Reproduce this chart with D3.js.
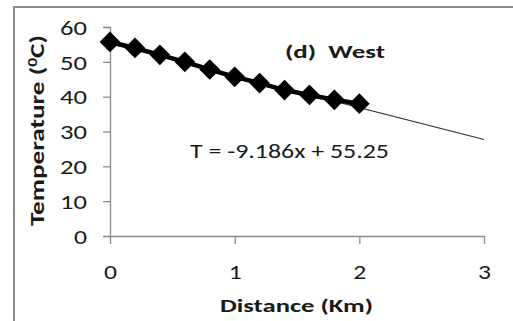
<!DOCTYPE html>
<html>
<head>
<meta charset="utf-8">
<script src="https://cdn.jsdelivr.net/npm/d3@7"></script>
<style>
  html, body { margin: 0; padding: 0; background: #fff; }
  svg { display: block; }
  text { font-family: Carlito, Calibri, Lato, "Open Sans", sans-serif; fill: #1a1a1a; }
</style>
</head>
<body>
<svg id="chart" width="513" height="321"></svg>
<script>
// Measured temperature along the western transect
const distances = [0, 0.2, 0.4, 0.6, 0.8, 1.0, 1.2, 1.4, 1.6, 1.8, 2.0];
const temperatures = [55.7, 54.0, 52.0, 50.0, 47.8, 45.7, 43.9, 41.9, 40.5, 39.1, 38.0];

// Linear trend line T = slope * x + intercept, extended to 3 km
const trendSlope = -9.186;
const trendIntercept = 55.25;
const trendRange = [0, 3];

const xTicks = [0, 1, 2, 3];
const yTicks = [0, 10, 20, 30, 40, 50, 60];

const titleText = "(d)  West";
const equationText = "T = -9.186x + 55.25";
const xTitle = "Distance (Km)";

const svg = d3.select("#chart");
const axisColor = "#8c8c8c";

// Chart area frame (top and left edges)
svg.append("path")
  .attr("d", "M14,321 V7 H513")
  .attr("fill", "none")
  .attr("stroke", "#8a8a8a")
  .attr("stroke-width", 2);

const x = d3.scaleLinear().domain([0, 3]).range([110, 484]);
const y = d3.scaleLinear().domain([0, 60]).range([236, 27]);

// Y axis
const yAxis = svg.append("g").attr("transform", `translate(${x(0)},0)`)
  .call(d3.axisLeft(y).tickValues(yTicks).tickSize(7).tickPadding(6).tickFormat(d3.format("d")));
yAxis.select(".domain").attr("stroke", axisColor).attr("stroke-width", 1.3);
yAxis.selectAll(".tick line").attr("stroke", axisColor).attr("stroke-width", 1.3);
yAxis.selectAll(".tick text")
  .attr("font-family", "Carlito, Calibri, Lato, 'Open Sans', sans-serif")
  .attr("font-size", 20).attr("fill", "#1a1a1a")
  .attr("x", -23).attr("dy", "0.36em")
  .attr("textLength", d => d === 0 ? 13 : 27)
  .attr("lengthAdjust", "spacingAndGlyphs");

// X axis
const xAxis = svg.append("g").attr("transform", `translate(0,${y(0)})`)
  .call(d3.axisBottom(x).tickValues(xTicks).tickSize(8).tickSizeOuter(0).tickFormat(d3.format("d")));
xAxis.select(".domain").attr("stroke", axisColor).attr("stroke-width", 1.3);
xAxis.selectAll(".tick line").attr("stroke", axisColor).attr("stroke-width", 1.3);
xAxis.selectAll(".tick text")
  .attr("font-family", "Carlito, Calibri, Lato, 'Open Sans', sans-serif")
  .attr("font-size", 20).attr("fill", "#1a1a1a")
  .attr("y", 43).attr("dy", 0)
  .attr("textLength", 13)
  .attr("lengthAdjust", "spacingAndGlyphs");

// Trend line
const trend = d3.line().x(d => x(d)).y(d => y(trendSlope * d + trendIntercept));
svg.append("path")
  .datum(trendRange)
  .attr("d", trend)
  .attr("fill", "none")
  .attr("stroke", "#333")
  .attr("stroke-width", 1.2);

// Connecting line between measurements
const line = d3.line().x((d, i) => x(distances[i])).y(d => y(d));
svg.append("path")
  .datum(temperatures)
  .attr("d", line)
  .attr("fill", "none")
  .attr("stroke", "#000")
  .attr("stroke-width", 4.5);

// Diamond markers
const diamond = d3.symbol().type(d3.symbolSquare).size(215);
svg.append("g").selectAll("path")
  .data(temperatures)
  .join("path")
  .attr("d", diamond)
  .attr("transform", (d, i) => `translate(${x(distances[i])},${y(d)}) rotate(45)`)
  .attr("fill", "#000");

// Titles and annotation
svg.append("text")
  .attr("x", 285).attr("y", 58)
  .attr("font-size", 19).attr("font-weight", "bold")
  .attr("textLength", 100).attr("lengthAdjust", "spacingAndGlyphs")
  .attr("xml:space", "preserve")
  .text(titleText);

svg.append("text")
  .attr("x", 190).attr("y", 158)
  .attr("font-size", 20)
  .attr("textLength", 199).attr("lengthAdjust", "spacingAndGlyphs")
  .text(equationText);

svg.append("text")
  .attr("x", 220).attr("y", 312)
  .attr("font-size", 19).attr("font-weight", "bold")
  .attr("textLength", 153).attr("lengthAdjust", "spacingAndGlyphs")
  .text(xTitle);

// Rotated y-axis title with superscript zero
const yTitle = svg.append("text")
  .attr("transform", "translate(44,226) rotate(-90)")
  .attr("font-size", 20).attr("font-weight", "bold")
  .attr("textLength", 191).attr("lengthAdjust", "spacingAndGlyphs");
yTitle.append("tspan").text("Temperature (");
yTitle.append("tspan").attr("font-size", 13).attr("dy", -7).text("0");
yTitle.append("tspan").attr("dy", 7).text("C)");
</script>
</body>
</html>
